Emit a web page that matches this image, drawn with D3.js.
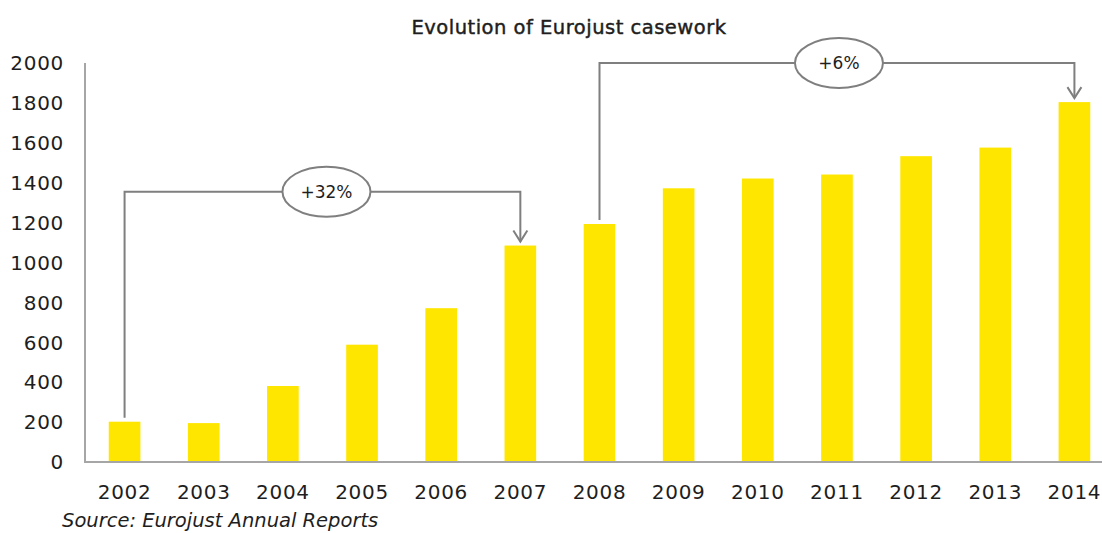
<!DOCTYPE html>
<html><head><meta charset="utf-8">
<script src="https://cdn.jsdelivr.net/npm/d3@7"></script>
<style>body{margin:0;background:#fff}svg{display:block}text{font-family:"DejaVu Sans",Verdana,sans-serif;fill:#1e1e1e}</style>
</head><body><svg id="c" width="1102" height="533"></svg>
<script>
const years = ["2002","2003","2004","2005","2006","2007","2008","2009","2010","2011","2012","2013","2014"];
const cases = [202,195,381,588,771,1085,1193,1372,1421,1441,1533,1576,1804];
const yTicks = [0,200,400,600,800,1000,1200,1400,1600,1800,2000];
const annFrom = ["2002","2008"];
const annTo = ["2007","2014"];
const annLabel = ["+32%","+6%"];
const annLevel = [1355,2000];

const svg = d3.select("#c");
const x = d3.scaleBand().domain(years).range([85,1114]).paddingInner(0.6).paddingOuter(0.3);
const y = d3.scaleLinear().domain([0,2000]).range([462,63]);

svg.append("text").attr("x",569).attr("y",34).attr("text-anchor","middle")
  .style("font-size","19.5px").style("letter-spacing","0.5px").style("stroke","#1e1e1e").style("stroke-width","0.45px")
  .text("Evolution of Eurojust casework");

svg.selectAll("rect.bar").data(years).enter().append("rect").attr("class","bar")
  .attr("x",d=>x(d)).attr("width",x.bandwidth())
  .attr("y",(d,i)=>y(cases[i])).attr("height",(d,i)=>y(0)-y(cases[i]))
  .attr("fill","#FFE600");

svg.append("line").attr("x1",85).attr("x2",85).attr("y1",y(2000)).attr("y2",y(0)).attr("stroke","#a6a6a6").attr("stroke-width",2);
svg.append("line").attr("x1",84).attr("x2",1102).attr("y1",y(0)).attr("y2",y(0)).attr("stroke","#a6a6a6").attr("stroke-width",2);

svg.selectAll("text.yt").data(yTicks).enter().append("text").attr("class","yt")
  .attr("x",64).attr("y",d=>y(d)).attr("dy","0.36em").attr("text-anchor","end")
  .style("font-size","20px").style("letter-spacing","0.7px").text(d=>d);

svg.selectAll("text.xt").data(years).enter().append("text").attr("class","xt")
  .attr("x",d=>x(d)+x.bandwidth()/2).attr("y",499).attr("text-anchor","middle")
  .style("font-size","20px").style("letter-spacing","0.7px").text(d=>d);

svg.append("text").attr("x",62).attr("y",527).style("font-size","19.5px").style("font-style","italic")
  .text("Source: Eurojust Annual Reports");

const gray = "#7f7f7f";
annFrom.forEach((f,i)=>{
  const t = annTo[i];
  const x1 = x(f)+x.bandwidth()/2, x2 = x(t)+x.bandwidth()/2;
  const v1 = cases[years.indexOf(f)], v2 = cases[years.indexOf(t)];
  const yl = y(annLevel[i]);
  const y1 = y(v1)-4, y2 = y(v2)-4;
  svg.append("path").attr("d",`M${x1},${y1}V${yl}H${x2}V${y2}`).attr("fill","none").attr("stroke",gray).attr("stroke-width",2);
  svg.append("path").attr("d",`M${x2-7},${y2-11}L${x2},${y2}L${x2+7},${y2-11}`).attr("fill","none").attr("stroke",gray).attr("stroke-width",2);
  const cx = (x1+x2)/2 + (i===0?4:2);
  svg.append("ellipse").attr("cx",cx).attr("cy",yl).attr("rx",44).attr("ry",25).attr("fill","#fff").attr("stroke",gray).attr("stroke-width",2);
  svg.append("text").attr("x",cx).attr("y",yl).attr("dy","0.36em").attr("text-anchor","middle").style("font-size","17px").text(annLabel[i]);
});
</script></body></html>
